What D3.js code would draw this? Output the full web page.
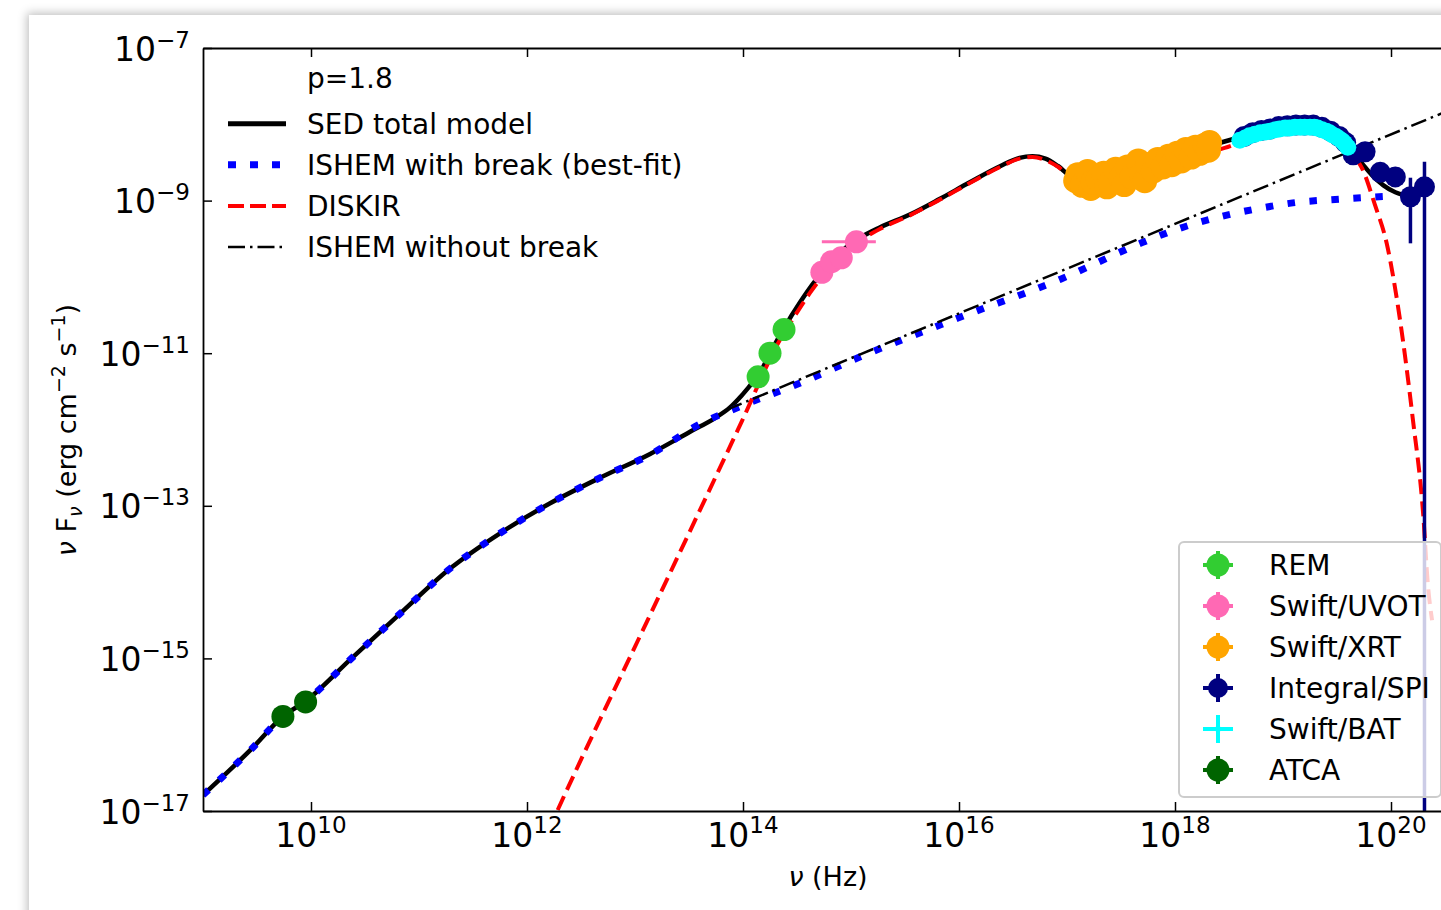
<!DOCTYPE html>
<html>
<head>
<meta charset="utf-8">
<script src="https://cdn.jsdelivr.net/npm/d3@7"></script>
<style>
  html, body { margin: 0; padding: 0; background: #fff; overflow: hidden; }
  #sheet { position: absolute; left: 29px; top: 15px; width: 1500px; height: 1000px;
           background: #fff; box-shadow: 0 0 9px 2px rgba(0,0,0,0.25); }
  #chart { position: absolute; left: 0; top: 0; }
  text { font-family: "DejaVu Sans", sans-serif; fill: #000; }
</style>
</head>
<body>
<div id="sheet"></div>
<div id="chart"></div>
<script>
// all values are log10(nu / Hz) and log10(nu F_nu / erg cm^-2 s^-1)

// model curves
const totalLogNu = [9.00, 9.44, 9.74, 9.95, 10.36, 10.82, 11.29, 11.75, 12.21, 12.68, 13.14, 13.51, 13.74, 13.88, 13.99, 14.08, 14.14, 14.25, 14.38, 14.53, 14.67, 14.81, 14.94, 15.08, 15.27, 15.55, 15.82, 16.10, 16.38, 16.56, 16.68, 16.80, 16.92, 17.05, 17.21, 17.49, 17.77, 18.05, 18.32, 18.60, 18.88, 19.16, 19.34, 19.53, 19.64, 19.73, 19.82, 19.93, 20.04, 20.16, 20.27, 20.38];
const totalLogF = [-16.79, -16.20, -15.76, -15.56, -15.02, -14.42, -13.82, -13.36, -12.97, -12.63, -12.32, -12.03, -11.85, -11.71, -11.55, -11.40, -11.30, -11.00, -10.67, -10.33, -10.05, -9.82, -9.63, -9.49, -9.35, -9.18, -8.98, -8.76, -8.55, -8.44, -8.42, -8.45, -8.55, -8.68, -8.65, -8.56, -8.47, -8.38, -8.28, -8.17, -8.05, -7.98, -8.02, -8.19, -8.36, -8.51, -8.66, -8.80, -8.89, -8.93, -8.91, -8.87];

const ishemLogNu = [9.00, 9.44, 9.74, 9.95, 10.36, 10.82, 11.29, 11.75, 12.21, 12.68, 13.14, 13.60, 13.99, 14.53, 15.08, 15.99, 16.94, 17.68, 18.05, 18.48, 18.79, 19.09, 19.53, 20.02];
const ishemLogF = [-16.79, -16.20, -15.76, -15.56, -15.02, -14.42, -13.82, -13.36, -12.97, -12.63, -12.33, -11.93, -11.69, -11.39, -11.05, -10.54, -10.03, -9.56, -9.36, -9.19, -9.10, -9.03, -8.98, -8.94];

const diskirLogNu = [12.20, 12.28, 13.14, 13.60, 13.99, 14.34, 14.48, 14.62, 14.81, 15.08, 15.27, 15.55, 15.82, 16.10, 16.38, 16.56, 16.68, 16.80, 16.92, 17.05, 17.77, 18.46, 18.88, 19.16, 19.34, 19.53, 19.64, 19.73, 19.85, 19.96, 20.08, 20.20, 20.30, 20.34, 20.38];
const diskirLogF = [-17.25, -17.00, -14.43, -13.06, -11.89, -10.83, -10.51, -10.21, -9.87, -9.53, -9.37, -9.19, -8.99, -8.77, -8.56, -8.45, -8.43, -8.47, -8.56, -8.70, -8.51, -8.31, -8.09, -8.02, -8.06, -8.22, -8.39, -8.57, -9.05, -9.56, -10.53, -11.84, -13.15, -14.01, -14.50];

const noBreakLogNu = [13.85, 20.60];
const noBreakLogF = [-11.74, -7.78];

// observed data
const remLogNu = [14.14, 14.25, 14.38];
const remLogF = [-11.31, -11.00, -10.69];

const uvotLogNu = [14.73, 14.82, 14.91, 15.05];
const uvotLogF = [-9.94, -9.80, -9.75, -9.54];
const uvotErrLo = [null, null, null, 14.73];
const uvotErrHi = [null, null, null, 15.23];

const xrtLogNu = [17.08, 17.10, 17.14, 17.19, 17.22, 17.24, 17.29, 17.34, 17.37, 17.40, 17.45, 17.50, 17.53, 17.56, 17.60, 17.66, 17.69, 17.72, 17.75, 17.80, 17.84, 17.89, 17.94, 17.97, 18.02, 18.06, 18.10, 18.15, 18.19, 18.23, 18.28, 18.31, 18.32];
const xrtLogF = [-8.74, -8.66, -8.80, -8.62, -8.84, -8.76, -8.72, -8.64, -8.82, -8.76, -8.59, -8.70, -8.79, -8.56, -8.69, -8.48, -8.66, -8.74, -8.53, -8.61, -8.46, -8.56, -8.42, -8.53, -8.38, -8.48, -8.33, -8.43, -8.30, -8.38, -8.27, -8.34, -8.24];

const spiLogNu = [18.64, 18.72, 18.80, 18.88, 18.96, 19.04, 19.12, 19.20, 19.28, 19.36, 19.44, 19.52, 19.58, 19.65, 19.76, 19.90, 20.04, 20.18, 20.31];
const spiLogF = [-8.16, -8.11, -8.08, -8.06, -8.03, -8.02, -8.01, -8.01, -8.01, -8.04, -8.09, -8.16, -8.24, -8.40, -8.36, -8.63, -8.69, -8.95, -8.82];
const spiErrHi = [null, null, null, null, null, null, null, null, null, null, null, null, null, null, null, null, null, -8.70, -8.49];
const spiErrLo = [null, null, null, null, null, null, null, null, null, null, null, null, null, null, null, null, null, -9.56, -18.0];

const batLogNu = [18.60, 18.65, 18.69, 18.74, 18.79, 18.84, 18.88, 18.93, 18.97, 19.02, 19.06, 19.11, 19.16, 19.20, 19.25, 19.29, 19.32, 19.36, 19.40, 19.43, 19.46, 19.49, 19.52, 19.55, 19.57, 19.60];
const batLogF = [-8.21, -8.18, -8.15, -8.13, -8.11, -8.10, -8.09, -8.07, -8.06, -8.05, -8.05, -8.04, -8.04, -8.04, -8.04, -8.04, -8.05, -8.07, -8.09, -8.11, -8.14, -8.16, -8.19, -8.22, -8.25, -8.30];

const atcaLogNu = [9.74, 9.95];
const atcaLogF = [-15.76, -15.57];

// axes
const xTicks = [10, 12, 14, 16, 18, 20];
const yTicks = [-17, -15, -13, -11, -9, -7];

const WIDTH = 1441, HEIGHT = 910;
const PLOT = { left: 203, right: 1453, top: 48, bottom: 811 };
const p10 = (v) => Math.pow(10, v);
const zip = (a, b) => a.map((v, i) => [v, b[i]]);

const x = d3.scaleLog().domain([1e9, p10(20.574)]).range([PLOT.left, PLOT.right]);
const y = d3.scaleLog().domain([1e-17, 1e-7]).range([PLOT.bottom, PLOT.top]);

const svg = d3.select("#chart").append("svg")
  .attr("width", WIDTH).attr("height", HEIGHT);

svg.append("defs").append("clipPath").attr("id", "plotclip")
  .append("rect")
  .attr("x", PLOT.left).attr("y", PLOT.top)
  .attr("width", PLOT.right - PLOT.left).attr("height", PLOT.bottom - PLOT.top);

const plot = svg.append("g").attr("clip-path", "url(#plotclip)");

const line = d3.line()
  .x((d) => x(p10(d[0])))
  .y((d) => y(p10(d[1])))
  .curve(d3.curveMonotoneX);

// model lines
plot.append("path").datum(zip(totalLogNu, totalLogF))
  .attr("d", line).attr("fill", "none").attr("stroke", "#000").attr("stroke-width", 4.5);
plot.append("path").datum(zip(ishemLogNu, ishemLogF))
  .attr("d", line).attr("fill", "none").attr("stroke", "#0000ff")
  .attr("stroke-width", 7).attr("stroke-dasharray", "7.5,14.5");
plot.append("path").datum(zip(diskirLogNu, diskirLogF))
  .attr("d", line).attr("fill", "none").attr("stroke", "#ff0000")
  .attr("stroke-width", 4).attr("stroke-dasharray", "15,7");
plot.append("path").datum(zip(noBreakLogNu, noBreakLogF))
  .attr("d", line).attr("fill", "none").attr("stroke", "#000")
  .attr("stroke-width", 2.5).attr("stroke-dasharray", "16,5,2.5,5");

// data points
function drawPoints(lx, ly, color, r) {
  plot.append("g").selectAll("circle")
    .data(zip(lx, ly))
    .join("circle")
    .attr("cx", (d) => x(p10(d[0])))
    .attr("cy", (d) => y(p10(d[1])))
    .attr("r", r)
    .attr("fill", color);
}

drawPoints(remLogNu, remLogF, "#32cd32", 11.5);

// UVOT frequency error bar
plot.append("g").selectAll("line")
  .data(uvotLogNu.map((v, i) => ({ lo: uvotErrLo[i], hi: uvotErrHi[i], f: uvotLogF[i] })).filter((d) => d.lo !== null))
  .join("line")
  .attr("x1", (d) => x(p10(d.lo))).attr("x2", (d) => x(p10(d.hi)))
  .attr("y1", (d) => y(p10(d.f))).attr("y2", (d) => y(p10(d.f)))
  .attr("stroke", "#ff69b4").attr("stroke-width", 3);
drawPoints(uvotLogNu, uvotLogF, "#ff69b4", 11.5);

drawPoints(xrtLogNu, xrtLogF, "#ffa500", 12.5);

// SPI flux error bars
plot.append("g").selectAll("line")
  .data(spiLogNu.map((v, i) => ({ nu: v, lo: spiErrLo[i], hi: spiErrHi[i] })).filter((d) => d.lo !== null))
  .join("line")
  .attr("x1", (d) => x(p10(d.nu))).attr("x2", (d) => x(p10(d.nu)))
  .attr("y1", (d) => y(p10(d.hi))).attr("y2", (d) => y(p10(d.lo)))
  .attr("stroke", "#000080").attr("stroke-width", 3.5);
drawPoints(spiLogNu, spiLogF, "#000080", 10.5);

drawPoints(batLogNu, batLogF, "#00ffff", 8.5);

drawPoints(atcaLogNu, atcaLogF, "#006400", 11.5);

// axes (ticks point inward)
const axisStyle = (g) => {
  g.select(".domain").attr("stroke", "#000").attr("stroke-width", 1.8);
  g.selectAll(".tick line").attr("stroke", "#000").attr("stroke-width", 1.5);
  g.selectAll(".tick text").remove();
};
svg.append("g").attr("transform", `translate(0,${PLOT.bottom})`)
  .call(d3.axisBottom(x).tickValues(xTicks.map(p10)).tickSizeInner(-9).tickSizeOuter(0))
  .call(axisStyle);
svg.append("g").attr("transform", `translate(0,${PLOT.top})`)
  .call(d3.axisTop(x).tickValues(xTicks.map(p10)).tickSizeInner(-9).tickSizeOuter(0))
  .call(axisStyle);
svg.append("g").attr("transform", `translate(${PLOT.left},0)`)
  .call(d3.axisLeft(y).tickValues(yTicks.map(p10)).tickSizeInner(-9).tickSizeOuter(0))
  .call(axisStyle);

const fmtExp = (e) => (e < 0 ? "\u2212" + Math.abs(e) : String(e));

const xl = svg.append("g").selectAll("text").data(xTicks).join("text")
  .attr("x", (d) => x(p10(d))).attr("y", 847)
  .attr("text-anchor", "middle");
xl.append("tspan").attr("font-size", 33).text("10");
xl.append("tspan").attr("font-size", 23).attr("dy", -14).text((d) => fmtExp(d));

const yl = svg.append("g").selectAll("text").data(yTicks).join("text")
  .attr("x", 190).attr("y", (d) => y(p10(d)) + 12.5)
  .attr("text-anchor", "end");
yl.append("tspan").attr("font-size", 33).text("10");
yl.append("tspan").attr("font-size", 23).attr("dy", -13).text((d) => fmtExp(d));

// axis titles
const xt = svg.append("text").attr("x", 828).attr("y", 886).attr("text-anchor", "middle")
  .attr("font-size", 27);
xt.append("tspan").attr("font-style", "italic").text("\u03bd");
xt.append("tspan").text(" (Hz)");

const yt = svg.append("text")
  .attr("transform", "translate(76,430) rotate(-90)")
  .attr("text-anchor", "middle").attr("font-size", 27);
yt.append("tspan").attr("font-style", "italic").text("\u03bd");
yt.append("tspan").text(" F");
yt.append("tspan").attr("font-size", 19).attr("font-style", "italic").attr("dy", 6).text("\u03bd");
yt.append("tspan").attr("dy", -6).text(" (erg cm");
yt.append("tspan").attr("font-size", 19).attr("dy", -11).text("\u22122");
yt.append("tspan").attr("dy", 11).text(" s");
yt.append("tspan").attr("font-size", 19).attr("dy", -11).text("\u22121");
yt.append("tspan").attr("dy", 11).text(")");

// model legend (top left, no frame)
const modelLegend = [
  { label: "p=1.8", stroke: null },
  { label: "SED total model", stroke: "#000", width: 5, dash: null },
  { label: "ISHEM with break (best-fit)", stroke: "#0000ff", width: 7, dash: "8,14" },
  { label: "DISKIR", stroke: "#ff0000", width: 4, dash: "16,6" },
  { label: "ISHEM without break", stroke: "#000", width: 2.5, dash: "17,5,2.5,5" },
];
const ml = svg.append("g").selectAll("g").data(modelLegend).join("g")
  .attr("transform", (d, i) => `translate(0,${i === 0 ? 78 : 123.7 + (i - 1) * 41.1})`);
ml.filter((d) => d.stroke).append("line")
  .attr("x1", 228).attr("x2", 286).attr("y1", 0).attr("y2", 0)
  .attr("stroke", (d) => d.stroke).attr("stroke-width", (d) => d.width)
  .attr("stroke-dasharray", (d) => d.dash);
ml.append("text").attr("x", 307).attr("y", 10).attr("font-size", 28).text((d) => d.label);

// data legend (bottom right)
const dataLegend = [
  { label: "REM", color: "#32cd32", r: 11.5 },
  { label: "Swift/UVOT", color: "#ff69b4", r: 11.5 },
  { label: "Swift/XRT", color: "#ffa500", r: 11.5 },
  { label: "Integral/SPI", color: "#000080", r: 10 },
  { label: "Swift/BAT", color: "#00ffff", r: 3 },
  { label: "ATCA", color: "#006400", r: 11.5 },
];
svg.append("rect")
  .attr("x", 1179).attr("y", 542).attr("width", 262).attr("height", 255).attr("rx", 5)
  .attr("fill", "#fff").attr("fill-opacity", 0.8)
  .attr("stroke", "#cccccc").attr("stroke-width", 2);
const dl = svg.append("g").selectAll("g").data(dataLegend).join("g")
  .attr("transform", (d, i) => `translate(1218,${565 + i * 41})`);
dl.append("line").attr("x1", -15).attr("x2", 15).attr("y1", 0).attr("y2", 0)
  .attr("stroke", (d) => d.color).attr("stroke-width", 4);
dl.append("line").attr("x1", 0).attr("x2", 0).attr("y1", -14).attr("y2", 14)
  .attr("stroke", (d) => d.color).attr("stroke-width", 4);
dl.append("circle").attr("r", (d) => d.r).attr("fill", (d) => d.color);
dl.append("text").attr("x", 51).attr("y", 10).attr("font-size", 28).text((d) => d.label);
</script>
</body>
</html>
